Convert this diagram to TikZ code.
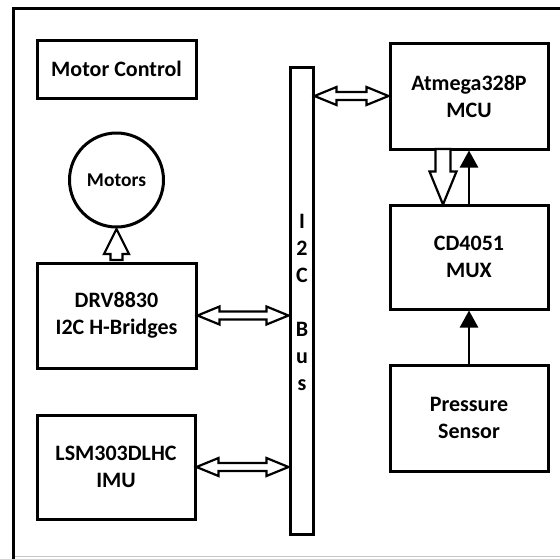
\documentclass[tikz,border=0pt]{standalone}
\usepackage{fontspec}
\setmainfont{Carlito}
\usetikzlibrary{calc,arrows.meta}
\tikzset{
  blk/.style={draw, line width=3pt, rectangle, align=center, font=\bfseries\fontsize{22}{27}\selectfont, inner sep=0pt},
  hollow/.style={draw, line width=2.2pt, fill=white, line join=miter},
  solidarrow/.style={line width=2.5pt, -{Triangle[length=17pt,width=18pt]}},
}
% #1 from, #2 to, #3 shaft half width, #4 head half width, #5 head length
\newcommand\onehollow[5]{%
  \path let \p1=(#1), \p2=(#2), \n1={atan2(\y2-\y1,\x2-\x1)}, \n2={veclen(\x2-\x1,\y2-\y1)} in
   [hollow, shift={(\p1)}, rotate=\n1]
   (0,#3) -- (\n2-#5,#3) -- (\n2-#5,#4) -- (\n2,0) -- (\n2-#5,-#4) -- (\n2-#5,-#3) -- (0,-#3) -- cycle;}
\newcommand\twohollow[5]{%
  \path let \p1=(#1), \p2=(#2), \n1={atan2(\y2-\y1,\x2-\x1)}, \n2={veclen(\x2-\x1,\y2-\y1)} in
   [hollow, shift={(\p1)}, rotate=\n1]
   (0,0) -- (#5,#4) -- (#5,#3) -- (\n2-#5,#3) -- (\n2-#5,#4) -- (\n2,0) -- (\n2-#5,-#4) -- (\n2-#5,-#3) -- (#5,-#3) -- (#5,-#4) -- cycle;}
\begin{document}
\begin{tikzpicture}[x=1pt,y=-1pt]
\useasboundingbox (0,0) rectangle (560,558);
% frame
\draw[gray!45, line width=1pt] (13,556.5) -- (560,556.5);
\draw[line width=3pt] (13,560) -- (13,8) -- (562,8);
% nodes
\node[blk, minimum width=159pt, minimum height=58pt] (mc) at (116.5,69) {Motor Control};
\node[draw, line width=3pt, circle, minimum size=94pt, inner sep=0pt, font=\bfseries\fontsize{19.5}{24}\selectfont] (motors) at (116.5,180) {Motors};
\node[blk, minimum width=159pt, minimum height=105pt] (drv) at (116.5,315.5) {DRV8830\\I2C H-Bridges};
\node[blk, minimum width=158pt, minimum height=104pt] (lsm) at (116,467) {LSM303DLHC\\IMU};
\node[draw, line width=3pt, minimum width=23pt, minimum height=467pt, inner sep=0pt] (bus) at (301.5,300.5) {};
\node[font=\bfseries\fontsize{22}{27}\selectfont, align=center, inner sep=0pt, anchor=north] (buslbl) at (302,214) {I\\2\\C\\[27pt]B\\u\\s};
\node[blk, minimum width=158pt, minimum height=106pt] (mcu) at (469,96) {Atmega328P\\MCU};
\node[blk, minimum width=158pt, minimum height=104pt] (mux) at (469,257) {CD4051\\MUX};
\node[blk, minimum width=158pt, minimum height=106pt] (ps) at (469,418) {Pressure\\Sensor};
% connectors
\coordinate (a1) at ($(drv.north)+(0,-1.5)$);
\coordinate (a2) at ($(motors.south)+(0,0.5)$);
\onehollow{a1}{a2}{6}{12.5}{25}
\coordinate (b1) at ($(mcu.south)+(-26,-1.5)$);
\coordinate (b2) at ($(mux.north)+(-26,1)$);
\onehollow{b1}{b2}{7.5}{13.5}{33}
\draw[solidarrow] (mux.north) -- (mcu.south);
\draw[solidarrow] (ps.north) -- (mux.south);
\twohollow{bus.east |- mcu.west}{mcu.west}{4}{9}{22}
\twohollow{drv.east}{drv.east -| bus.west}{4}{9}{22}
\twohollow{lsm.east}{lsm.east -| bus.west}{4}{9}{22}
\end{tikzpicture}
\end{document}
